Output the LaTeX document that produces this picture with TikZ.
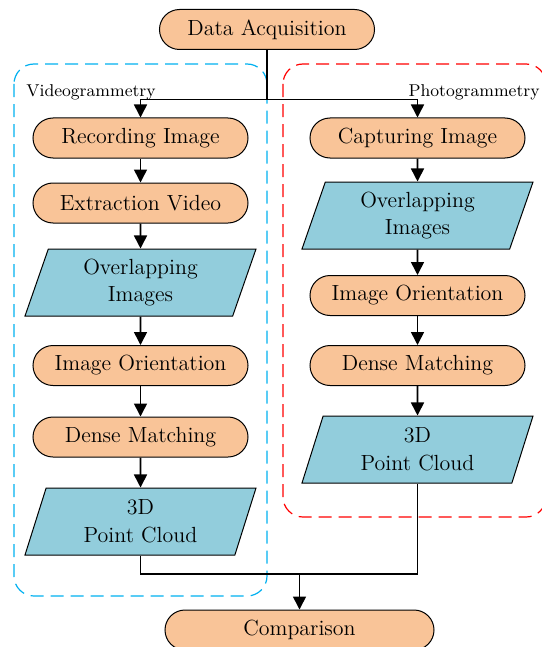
\documentclass[tikz,border=0pt]{standalone}
\usepackage{tikz}
\usetikzlibrary{arrows.meta,shapes.geometric}
\definecolor{boxorange}{RGB}{249,196,152}
\definecolor{dataaqua}{RGB}{146,205,220}
\definecolor{videoblue}{RGB}{0,176,240}
\definecolor{photored}{RGB}{255,0,0}

\begin{document}
\begin{tikzpicture}[x=0.5bp,y=-0.5bp,>={Triangle[length=6.5bp,width=6.5bp]},
  procbox/.style={draw,line width=0.5bp,fill=boxorange,rounded corners=10bp,
    minimum width=107.5bp,minimum height=20bp,inner sep=0pt,font=\fontsize{11}{14}\selectfont},
  databox/.style={draw,line width=0.5bp,fill=dataaqua,trapezium,trapezium left angle=64,
    trapezium right angle=116,trapezium stretches body,minimum width=115.5bp,
    minimum height=33.5bp,inner sep=0pt,align=center,font=\fontsize{11}{14}\selectfont},
  frame/.style={line width=0.6bp,dash pattern=on 6.5bp off 3.5bp,rounded corners=10bp},
  flow/.style={line width=0.8bp},
  grouplabel/.style={font=\fontsize{8.6}{10}\selectfont,inner sep=0pt}]
  \useasboundingbox (0,0) rectangle (542,647);
  % dashed group frames
  \draw[frame,videoblue] (14,64) rectangle (267,596);
  \draw[frame,photored] (283,64) rectangle (546,517);
  \node[grouplabel,anchor=base west] (vlab) at (26,97) {Videogrammetry};
  \node[grouplabel,anchor=base east] (plab) at (540,97) {Photogrammetry};
  % top and bottom
  \node[procbox] (acq) at (267,29.5) {Data Acquisition};
  \node[procbox,minimum width=134.5bp] (cmp) at (299.5,630) {Comparison};
  % videogrammetry column
  \node[procbox] (rec) at (140.5,138) {Recording Image};
  \node[procbox] (ext) at (140.5,203) {Extraction Video};
  \node[databox] (ovl) at (140.5,282.5) {Overlapping\\Images};
  \node[procbox] (oril) at (140.5,365.5) {Image Orientation};
  \node[procbox] (denl) at (140.5,437) {Dense Matching};
  \node[databox] (pcl) at (140.5,521.5) {3D\\Point Cloud};
  % photogrammetry column
  \node[procbox] (cap) at (417.5,138) {Capturing Image};
  \node[databox] (ovr) at (417.5,215.5) {Overlapping\\Images};
  \node[procbox] (orir) at (417.5,295.5) {Image Orientation};
  \node[procbox] (denr) at (417.5,365.5) {Dense Matching};
  \node[databox] (pcr) at (417.5,449.5) {3D\\Point Cloud};
  % connectors
  \coordinate (split) at (267,99.5);
  \coordinate (merge) at (299.5,574);
  \draw[flow] (acq) -- (split);
  \draw[flow,->] (split) -| (rec);
  \draw[flow,->] (split) -| (cap);
  \foreach \a/\b in {rec/ext,ext/ovl,ovl/oril,oril/denl,denl/pcl,cap/ovr,ovr/orir,orir/denr,denr/pcr}
    \draw[flow,->] (\a) -- (\b);
  \draw[flow] (pcl) |- (merge) -| (pcr);
  \draw[flow,->] (merge) -- (cmp);
\end{tikzpicture}
\end{document}
